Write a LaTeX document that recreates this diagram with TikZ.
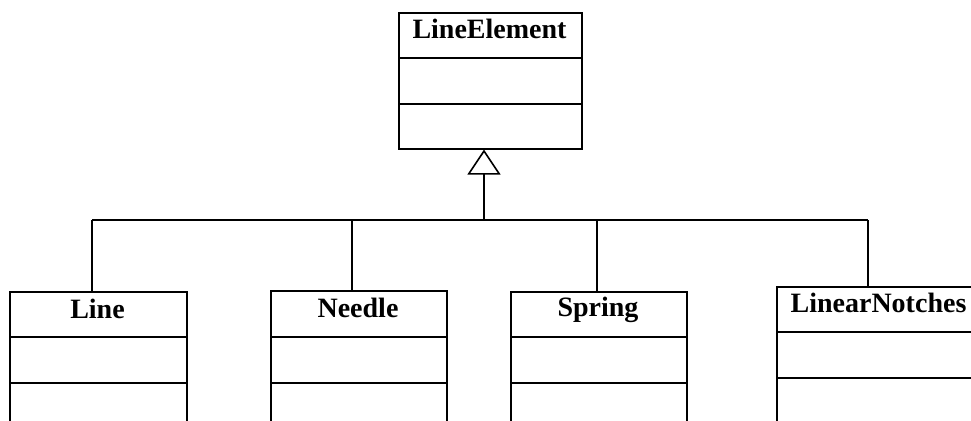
\documentclass[tikz,border=0pt]{standalone}
\usepackage{fontspec}
\setmainfont{Liberation Serif}
\usetikzlibrary{arrows.meta}
\begin{document}
\begin{tikzpicture}[x=1pt,y=-1pt,
  classbox/.style={draw=black, line width=1.6pt, rectangle, inner sep=0pt, anchor=north west},
  classname/.style={anchor=base, inner sep=0pt, font=\fontsize{28}{30}\selectfont\bfseries},
  link/.style={draw=black, line width=1.6pt},
  inherit/.style={link, -{Triangle[open, length=25pt, width=33pt, line width=1.6pt]}}]
\useasboundingbox (0,0) rectangle (971,420);
\clip (0,0) rectangle (971,420);

% superclass
\node[classbox, minimum width=183pt, minimum height=136pt] (LE) at (398,12) {};
\draw[link] (LE.west |- 0,58) -- (LE.east |- 0,58);
\draw[link] (LE.west |- 0,104) -- (LE.east |- 0,104);
\node[classname] (LEt) at (489.5,39) {LineElement};

% subclasses (drawn past the lower edge)
\node[classbox, minimum width=177pt, minimum height=160pt] (Ln) at (9,291) {};
\draw[link] (Ln.west |- 0,337) -- (Ln.east |- 0,337);
\draw[link] (Ln.west |- 0,383) -- (Ln.east |- 0,383);
\node[classname] (Lnt) at (97.5,318) {Line};

\node[classbox, minimum width=176pt, minimum height=160pt] (Nd) at (270,290) {};
\draw[link] (Nd.west |- 0,337) -- (Nd.east |- 0,337);
\draw[link] (Nd.west |- 0,383) -- (Nd.east |- 0,383);
\node[classname] (Ndt) at (358,317) {Needle};

\node[classbox, minimum width=176pt, minimum height=160pt] (Sp) at (510,291) {};
\draw[link] (Sp.west |- 0,337) -- (Sp.east |- 0,337);
\draw[link] (Sp.west |- 0,383) -- (Sp.east |- 0,383);
\node[classname] (Spt) at (598,316) {Spring};

\node[classbox, minimum width=205pt, minimum height=170pt] (LN) at (776,286) {};
\draw[link] (LN.west |- 0,332) -- (LN.east |- 0,332);
\draw[link] (LN.west |- 0,378) -- (LN.east |- 0,378);
\node[classname] (LNt) at (878.5,312) {LinearNotches};

% generalisation tree
\coordinate (hub) at (484,220);
\coordinate (jLn) at (92,220);
\coordinate (jNd) at (352,220);
\coordinate (jSp) at (597,220);
\coordinate (jLN) at (868,220);
\draw[inherit] (hub) -- (hub |- LE.south);
\draw[link] (jLn) -- (jLN);
\draw[link] (jLn) -- (jLn |- Ln.north);
\draw[link] (jNd) -- (jNd |- Nd.north);
\draw[link] (jSp) -- (jSp |- Sp.north);
\draw[link] (jLN) -- (jLN |- LN.north);
\end{tikzpicture}
\end{document}
